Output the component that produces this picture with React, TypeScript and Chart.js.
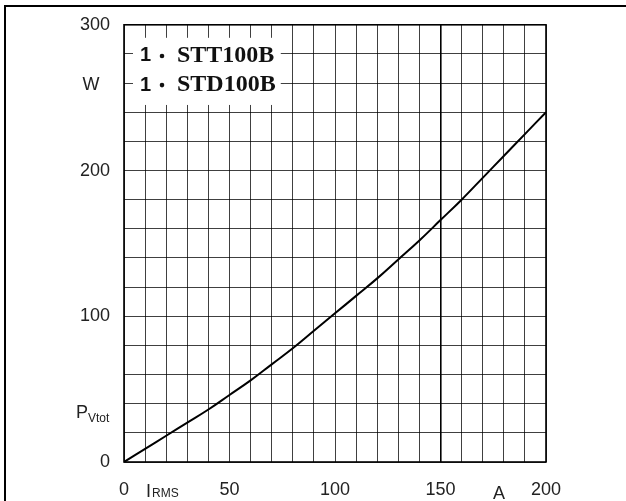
import { useEffect, useRef } from "react";
import { Chart, registerables } from "chart.js";

Chart.register(...registerables);

const currentA = [0, 10, 20, 30, 40, 50, 60, 70, 80, 90, 100, 110, 120, 130, 140, 150, 160, 170, 180, 190, 200];
const powerW = [0, 9, 18, 27, 36, 46, 56, 67, 78, 90, 102, 114, 126, 139, 152, 166, 180, 195, 210, 225, 240];
const xTickLabels = [0, 50, 100, 150, 200];
const yTickLabels = [0, 100, 200, 300];
const legendLines = ["STT100B", "STD100B"];
const legendPrefix = "1";

const annotPlugin = {
  id: "annot",
  afterDraw(chart: any) {
    const { ctx, chartArea: a, scales } = chart;
    const x = scales.x;
    const y = scales.y;
    ctx.save();

    // white legend box covering the grid
    const bx0 = a.left + 9;
    const bx1 = x.getPixelForValue(74.3);
    const by0 = a.top + 13;
    const by1 = y.getPixelForValue(245);
    ctx.fillStyle = "#fff";
    ctx.fillRect(bx0, by0, bx1 - bx0, by1 - by0);

    // legend text
    const rows = [280, 260];
    legendLines.forEach((t, i) => {
      const ly = y.getPixelForValue(rows[i]);
      ctx.fillStyle = "#111";
      ctx.textBaseline = "middle";
      ctx.textAlign = "left";
      ctx.font = 'bold 20px "Liberation Sans"';
      ctx.fillText(legendPrefix, a.left + 16, ly + 2);
      ctx.beginPath();
      ctx.arc(a.left + 38, ly + 2, 2.3, 0, Math.PI * 2);
      ctx.fill();
      ctx.font = 'bold 24px "Liberation Serif"';
      ctx.fillText(t, a.left + 53, ly + 2);
    });

    // frame
    ctx.strokeStyle = "#000";
    ctx.lineWidth = 1.6;
    ctx.strokeRect(a.left, a.top, a.right - a.left, a.bottom - a.top);

    // axis titles
    ctx.fillStyle = "#222";
    ctx.textBaseline = "alphabetic";
    ctx.textAlign = "center";
    ctx.font = '18px "Liberation Sans"';
    ctx.fillText("W", 91, 90);
    ctx.textAlign = "left";
    ctx.fillText("P", 76, 418);
    ctx.font = '12px "Liberation Sans"';
    ctx.fillText("Vtot", 88, 422);
    ctx.font = '18px "Liberation Sans"';
    ctx.fillText("I", 146, 497);
    ctx.font = '12px "Liberation Sans"';
    ctx.fillText("RMS", 152, 497);
    ctx.font = '18px "Liberation Sans"';
    ctx.textAlign = "center";
    ctx.fillText("A", 499, 499);
    ctx.restore();
  },
};

export default function App() {
  const ref = useRef<HTMLCanvasElement | null>(null);
  useEffect(() => {
    if (!ref.current) return;
    const chart = new Chart(ref.current, {
      type: "line",
      data: {
        datasets: [
          {
            data: currentA.map((v, i) => ({ x: v, y: powerW[i] })),
            borderColor: "#000",
            borderWidth: 2,
            pointRadius: 0,
            tension: 0.4,
            fill: false,
          },
        ],
      },
      options: {
        animation: false,
        responsive: false,
        maintainAspectRatio: false,
        layout: { padding: { top: 24, right: 80, left: 0, bottom: 0 } },
        plugins: { legend: { display: false }, tooltip: { enabled: false } },
        scales: {
          x: {
            type: "linear",
            min: 0,
            max: 200,
            afterFit: (s: any) => {
              s.height = 39;
            },
            border: { display: false },
            grid: {
              drawTicks: false,
              color: (c: any) => (c.tick && c.tick.value === 150 ? "#000" : "rgba(0,0,0,0.75)"),
              lineWidth: (c: any) => (c.tick && c.tick.value === 150 ? 1.6 : 1),
            },
            ticks: {
              stepSize: 10,
              autoSkip: false,
              maxRotation: 0,
              padding: 17,
              color: "#222",
              font: { family: "Liberation Sans", size: 18 },
              callback: (v: any) => (xTickLabels.includes(Number(v)) ? String(v) : ""),
            },
          },
          y: {
            type: "linear",
            min: 0,
            max: 300,
            afterFit: (s: any) => {
              s.width = 124;
            },
            border: { display: false },
            grid: {
              drawTicks: false,
              color: "rgba(0,0,0,0.75)",
              lineWidth: 1,
            },
            ticks: {
              stepSize: 20,
              autoSkip: false,
              padding: 14,
              color: "#222",
              font: { family: "Liberation Sans", size: 18 },
              callback: (v: any) => (yTickLabels.includes(Number(v)) ? String(v) : ""),
            },
          },
        },
      },
      plugins: [annotPlugin],
    } as any);
    return () => chart.destroy();
  }, []);

  return (
    <div style={{ position: "fixed", left: 0, top: 0, width: 626, height: 501, background: "#fff", overflow: "hidden" }}>
      <canvas ref={ref} width={626} height={501} style={{ position: "absolute", left: 0, top: 0, width: 626, height: 501 }} />
      <div
        style={{
          position: "absolute",
          left: 4,
          top: 5,
          width: 700,
          height: 600,
          borderLeft: "2px solid #000",
          borderTop: "2px solid #000",
          pointerEvents: "none",
        }}
      />
    </div>
  );
}
